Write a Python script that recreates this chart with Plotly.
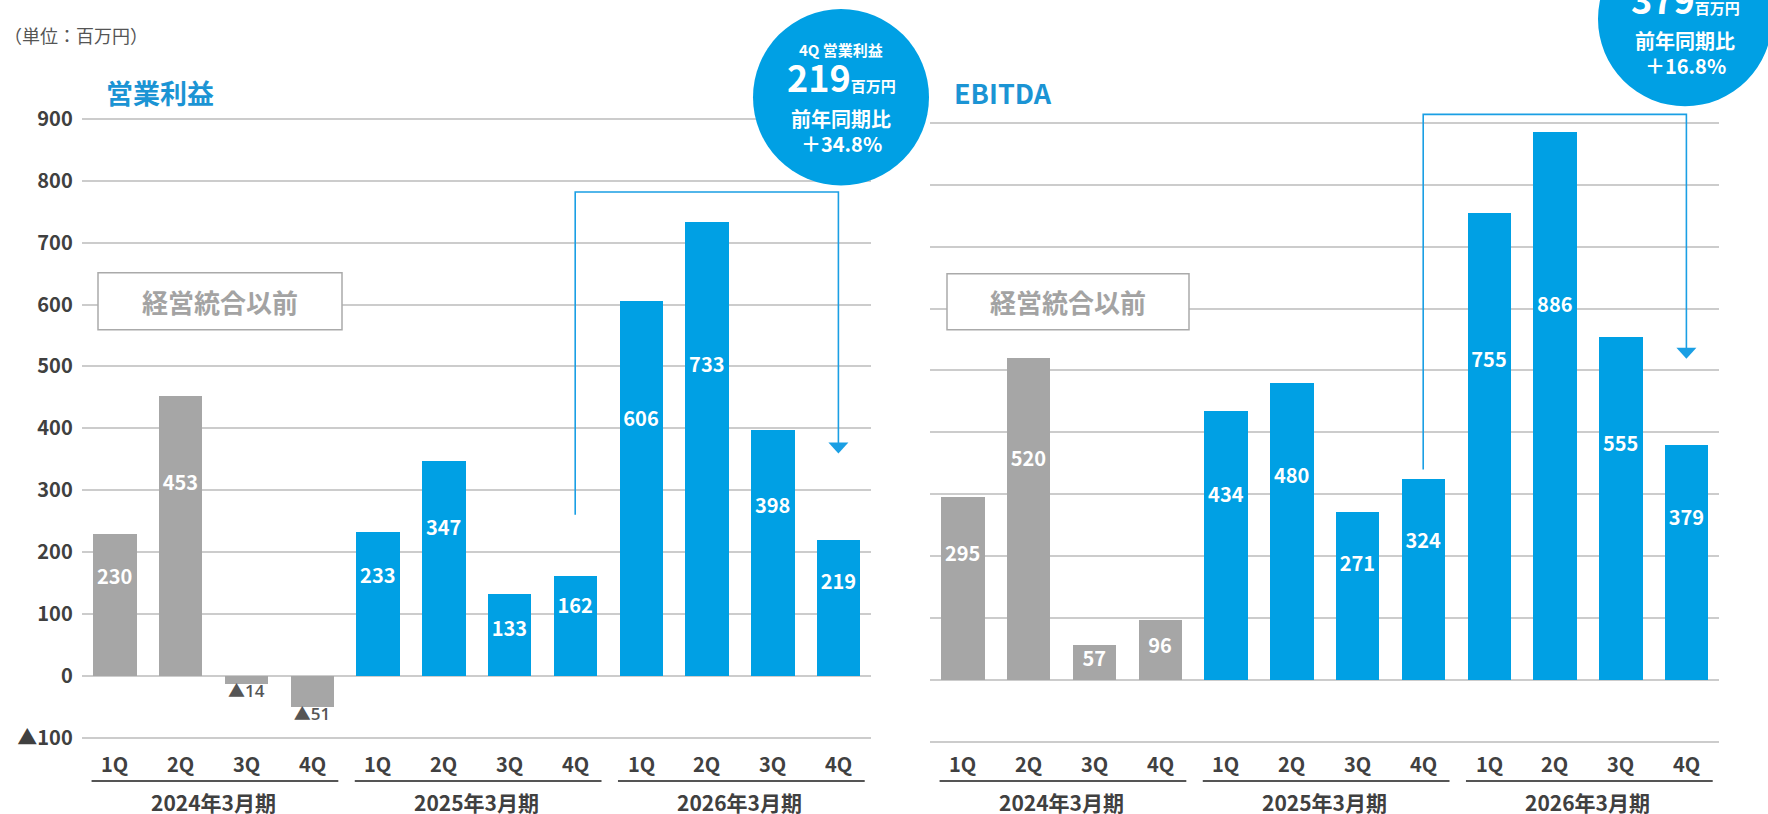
import plotly.graph_objects as go

# ---------------- data ----------------
quarters = ["1Q", "2Q", "3Q", "4Q", "1Q", "2Q", "3Q", "4Q", "1Q", "2Q", "3Q", "4Q"]
fiscal_years = ["2024年3月期", "2025年3月期", "2026年3月期"]
op_profit = [230, 453, -14, -51, 233, 347, 133, 162, 606, 733, 398, 219]
ebitda = [295, 520, 57, 96, 434, 480, 271, 324, 755, 886, 555, 379]
n_pre_merger = 4
y_ticks = [-100, 0, 100, 200, 300, 400, 500, 600, 700, 800, 900]
op_callout = ["4Q 営業利益", "219", "前年同期比", "＋34.8%"]
ebitda_callout = ["4Q EBITDA", "379", "前年同期比", "＋16.8%"]

# ---------------- style ----------------
W, H = 1768, 814
HP = 801.0  # effective rendered paper height
BLUE = "#00a0e4"
GRAY = "#a6a6a6"
TITLE_BLUE = "#1b94d4"
TXT = "#404040"
GRID = "#cccccc"
FONT = "Noto Sans CJK JP"


def fx(p):
    return p / W


def fy(p):
    return 1 - p / HP


def tick_text(v):
    return "▲" + str(abs(v)) if v < 0 else str(v)


xs = list(range(len(quarters)))
bar_colors = [GRAY if i < n_pre_merger else BLUE for i in xs]

fig = go.Figure()

panels = [
    dict(vals=op_profit, xa="x", ya="y", xd=[81.7, 871.3], zero=674.0,
         title="営業利益", box=[98, 272, 342, 329], circle=(841, 97, 88),
         callout=op_callout, bracket=(7, 11, 260, 782), showy=True),
    dict(vals=ebitda, xa="x2", ya="y2", xd=[929.7, 1719.3], zero=678.0,
         title="EBITDA", box=[947, 273, 1189, 329], circle=(1685, 19, 87),
         callout=ebitda_callout, bracket=(7, 11, 340, 914), showy=False),
]

PXU = 0.617  # pixels per data unit
YMAX = 960
YMIN = -103
shapes = []
annotations = []

for k, p in enumerate(panels):
    vals = p["vals"]
    fig.add_trace(go.Bar(x=xs, y=vals, marker=dict(color=bar_colors, line=dict(width=0)),
                         width=0.66, xaxis=p["xa"], yaxis=p["ya"], showlegend=False,
                         hoverinfo="skip"))
    # labels inside positive bars
    pos_x = [x for x, v in zip(xs, vals) if v >= 0]
    pos_v = [v for v in vals if v >= 0]
    pos_y = [v * 0.68 if v > 150 else v * 0.54 for v in pos_v]
    fig.add_trace(go.Scatter(x=pos_x, y=pos_y, mode="text", text=[str(v) for v in pos_v],
                             textfont=dict(family=FONT, size=20, color="white", weight="bold"),
                             xaxis=p["xa"], yaxis=p["ya"], showlegend=False, cliponaxis=False,
                             hoverinfo="skip"))
    neg_x = [x for x, v in zip(xs, vals) if v < 0]
    neg_v = [v for v in vals if v < 0]
    if neg_v:
        fig.add_trace(go.Scatter(x=neg_x, y=neg_v, mode="text", text=[tick_text(v) for v in neg_v],
                                 textposition="bottom center",
                                 textfont=dict(family="Open Sans, Noto Sans CJK JP", size=17,
                                               color="#555555", weight=600),
                                 xaxis=p["xa"], yaxis=p["ya"], showlegend=False, cliponaxis=False,
                                 hoverinfo="skip"))

    bottom = p["zero"] - YMIN * PXU
    top = p["zero"] - YMAX * PXU
    xsuffix = p["xa"][1:]
    ysuffix = p["ya"][1:]
    fig.layout["xaxis" + xsuffix] = dict(domain=[fx(p["xd"][0]), fx(p["xd"][1])],
                                         range=[-0.5, 11.5], showgrid=False, zeroline=False,
                                         showticklabels=False, fixedrange=True,
                                         anchor=p["ya"])
    fig.layout["yaxis" + ysuffix] = dict(domain=[fy(bottom), fy(top)], range=[YMIN, YMAX],
                                         tickvals=y_ticks,
                                         ticktext=[tick_text(v) for v in y_ticks],
                                         showticklabels=p["showy"], showgrid=True,
                                         gridcolor=GRID, gridwidth=2, zeroline=False,
                                         tickfont=dict(family=FONT, size=20, color=TXT, weight="bold"),
                                         ticklabelstandoff=8, fixedrange=True,
                                         anchor=p["xa"])

    # category labels and fiscal year groups
    for i, q in enumerate(quarters):
        annotations.append(dict(x=i, y=fy(762), xref=p["xa"], yref="paper", text=q,
                                showarrow=False, xanchor="center", yanchor="middle",
                                font=dict(family=FONT, size=20, color=TXT, weight="bold")))
    for g, fyname in enumerate(fiscal_years):
        shapes.append(dict(type="line", xref=p["xa"], yref="paper",
                           x0=4 * g - 0.35, x1=4 * g + 3.4, y0=fy(779), y1=fy(779),
                           line=dict(color="#555555", width=2)))
        annotations.append(dict(x=4 * g + 1.5, y=fy(800), xref=p["xa"], yref="paper",
                                text=fyname, showarrow=False, xanchor="center", yanchor="middle",
                                font=dict(family=FONT, size=21, color=TXT, weight="bold")))

    # panel title
    tx = p["xd"][0] + 22
    annotations.append(dict(x=fx(tx), y=fy(92), xref="paper", yref="paper", text="<b>" + p["title"] + "</b>",
                            showarrow=False, xanchor="left", yanchor="middle",
                            font=dict(family=FONT, size=27, color=TITLE_BLUE)))

    # pre-merger box
    bx0, by0, bx1, by1 = p["box"]
    shapes.append(dict(type="rect", xref="paper", yref="paper", x0=fx(bx0), x1=fx(bx1),
                       y0=fy(by1), y1=fy(by0), fillcolor="white",
                       line=dict(color="#aaaaaa", width=1.5), layer="above"))
    annotations.append(dict(x=fx((bx0 + bx1) / 2), y=fy((by0 + by1) / 2), xref="paper", yref="paper",
                            text="<b>経営統合以前</b>", showarrow=False,
                            xanchor="center", yanchor="middle",
                            font=dict(family=FONT, size=26, color="#a3a3a3")))

    # bracket with arrow
    i0, i1, ystart, ytop = p["bracket"]
    ytip = vals[i1] + 140
    lc = dict(color="#1a9fe4", width=1.6)
    shapes.append(dict(type="path", xref=p["xa"], yref=p["ya"],
                       path=f"M {i0},{ystart} L {i0},{ytop} L {i1},{ytop} L {i1},{ytip + 10}",
                       line=lc, layer="above"))
    hw = 10 / 65.8
    hh = 11 / PXU
    shapes.append(dict(type="path", xref=p["xa"], yref=p["ya"],
                       path=f"M {i1 - hw},{ytip + hh} L {i1 + hw},{ytip + hh} L {i1},{ytip} Z",
                       fillcolor="#1a9fe4", line=dict(width=0), layer="above"))

    # callout circle
    cx, cy, r = p["circle"]
    shapes.append(dict(type="circle", xref="paper", yref="paper",
                       x0=fx(cx - r), x1=fx(cx + r), y0=fy(cy + r), y1=fy(cy - r),
                       fillcolor=BLUE, line=dict(width=0), layer="above"))
    c = p["callout"]
    common = dict(xref="paper", yref="paper", showarrow=False, xanchor="center", yanchor="middle")
    annotations.append(dict(x=fx(cx), y=fy(cy - 48), text="<b>" + c[0] + "</b>",
                            font=dict(family=FONT, size=15, color="white"), **common))
    annotations.append(dict(x=fx(cx), y=fy(cy - 21),
                            text="<b>" + c[1] + "</b><span style='font-size:15px'><b>百万円</b></span>",
                            font=dict(family=FONT, size=36, color="white"), **common))
    annotations.append(dict(x=fx(cx), y=fy(cy + 21), text="<b>" + c[2] + "</b>",
                            font=dict(family=FONT, size=20, color="white"), **common))
    annotations.append(dict(x=fx(cx), y=fy(cy + 46), text="<b>" + c[3] + "</b>",
                            font=dict(family=FONT, size=20, color="white"), **common))

annotations.append(dict(x=fx(2), y=fy(35), xref="paper", yref="paper", text="（単位：百万円）",
                        showarrow=False, xanchor="left", yanchor="middle",
                        font=dict(family=FONT, size=18, color="#555555")))

fig.update_layout(width=W, height=H, margin=dict(l=0, r=0, t=0, b=0),
                  paper_bgcolor="white", plot_bgcolor="white", bargap=0,
                  shapes=shapes, annotations=annotations, showlegend=False,
                  font=dict(family=FONT))

fig.write_html("out.html", config={"displayModeBar": False})
